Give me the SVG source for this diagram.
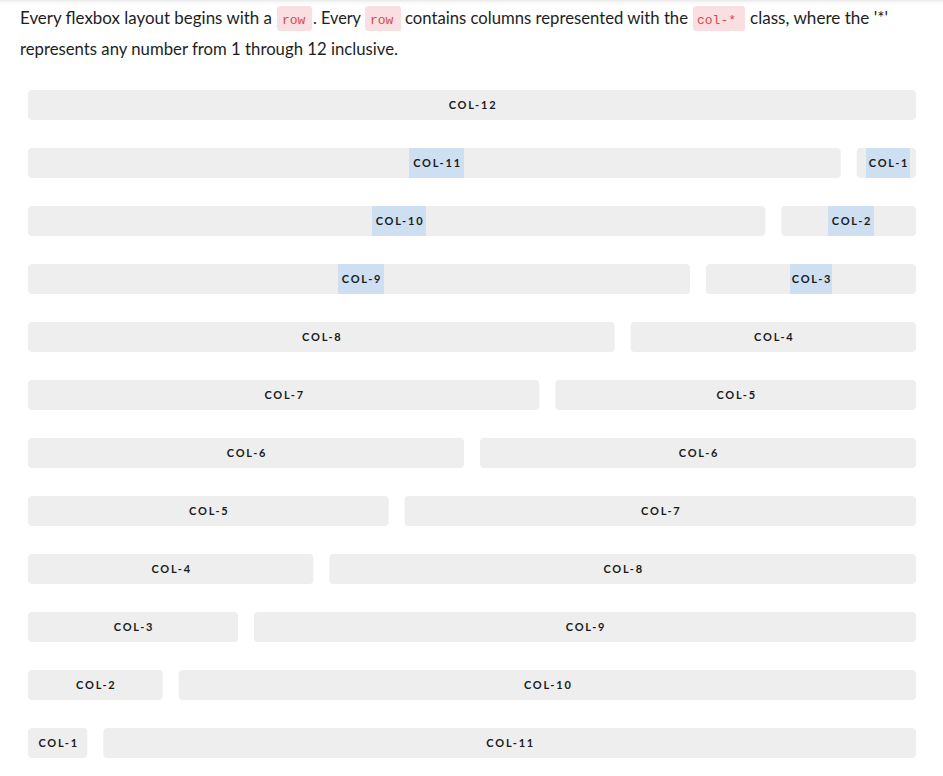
<svg xmlns="http://www.w3.org/2000/svg" width="943" height="776" viewBox="0 0 943 776">
  <defs>
    <linearGradient id="topShade" x1="0" y1="0" x2="0" y2="1">
      <stop offset="0" stop-color="#e9e9e9"/>
      <stop offset="1" stop-color="#ffffff" stop-opacity="0"/>
    </linearGradient>
  </defs>
  <style>
    .intro { font-family: Lato, "Noto Sans", "Liberation Sans", sans-serif; font-size: 16.5px; fill: #1e1e1e; }
    .code-bg { fill: #f9dfe1; }
    .code { font-family: "Liberation Mono", "DejaVu Sans Mono", monospace; font-size: 13px; fill: #d9474f; }
    .bar { fill: #eeeeee; }
    .hl { fill: #cddff0; }
    .lbl { font-family: Lato, "Noto Sans", "Liberation Sans", sans-serif; font-size: 11px; font-weight: 700; letter-spacing: 1.8px; fill: #1a1a1a; text-anchor: middle; }
  </style>

  <rect x="0" y="0" width="943" height="776" fill="#ffffff"/>
  <rect x="0" y="0" width="943" height="6" fill="url(#topShade)"/>

  <!-- intro paragraph -->
  <g id="intro">
    <text class="intro" x="20" y="24" textLength="252" lengthAdjust="spacingAndGlyphs">Every flexbox layout begins with a</text>
    <rect class="code-bg" x="277" y="6" width="35" height="25" rx="3"/>
    <text class="code" x="282" y="24">row</text>
    <text class="intro" x="313" y="24" textLength="48" lengthAdjust="spacingAndGlyphs">. Every</text>
    <rect class="code-bg" x="365" y="6" width="36" height="25" rx="3"/>
    <text class="code" x="370" y="24">row</text>
    <text class="intro" x="405" y="24" textLength="283" lengthAdjust="spacingAndGlyphs">contains columns represented with the</text>
    <rect class="code-bg" x="693" y="6" width="52" height="25" rx="3"/>
    <text class="code" x="697" y="24">col-*</text>
    <text class="intro" x="750" y="24" textLength="138" lengthAdjust="spacingAndGlyphs">class, where the '*'</text>
    <text class="intro" x="20" y="55" textLength="378" lengthAdjust="spacingAndGlyphs">represents any number from 1 through 12 inclusive.</text>
  </g>

  <!-- row 1 -->
  <g id="row-1">
    <g id="r1-col-12"><rect class="bar" x="28" y="90" width="888" height="30" rx="4"/><text class="lbl" x="473" y="108.5">COL-12</text></g>
  </g>
  <!-- row 2 -->
  <g id="row-2">
    <g id="r2-col-11"><rect class="bar" x="28" y="148" width="812.67" height="30" rx="4"/><rect class="hl" x="409" y="148" width="55" height="30"/><text class="lbl" x="437.5" y="166.5">COL-11</text></g>
    <g id="r2-col-1"><rect class="bar" x="856.67" y="148" width="59.33" height="30" rx="4"/><rect class="hl" x="866" y="148" width="44" height="30"/><text class="lbl" x="889" y="166.5">COL-1</text></g>
  </g>
  <!-- row 3 -->
  <g id="row-3">
    <g id="r3-col-10"><rect class="bar" x="28" y="206" width="737.33" height="30" rx="4"/><rect class="hl" x="372" y="206" width="54" height="30"/><text class="lbl" x="400" y="224.5">COL-10</text></g>
    <g id="r3-col-2"><rect class="bar" x="781.33" y="206" width="134.67" height="30" rx="4"/><rect class="hl" x="828" y="206" width="46" height="30"/><text class="lbl" x="852" y="224.5">COL-2</text></g>
  </g>
  <!-- row 4 -->
  <g id="row-4">
    <g id="r4-col-9"><rect class="bar" x="28" y="264" width="662" height="30" rx="4"/><rect class="hl" x="338" y="264" width="46" height="30"/><text class="lbl" x="362" y="282.5">COL-9</text></g>
    <g id="r4-col-3"><rect class="bar" x="706" y="264" width="210" height="30" rx="4"/><rect class="hl" x="790" y="264" width="42" height="30"/><text class="lbl" x="812" y="282.5">COL-3</text></g>
  </g>
  <!-- row 5 -->
  <g id="row-5">
    <g id="r5-col-8"><rect class="bar" x="28" y="322" width="586.67" height="30" rx="4"/><text class="lbl" x="322.3" y="340.5">COL-8</text></g>
    <g id="r5-col-4"><rect class="bar" x="630.67" y="322" width="285.33" height="30" rx="4"/><text class="lbl" x="774.3" y="340.5">COL-4</text></g>
  </g>
  <!-- row 6 -->
  <g id="row-6">
    <g id="r6-col-7"><rect class="bar" x="28" y="380" width="511.33" height="30" rx="4"/><text class="lbl" x="284.7" y="398.5">COL-7</text></g>
    <g id="r6-col-5"><rect class="bar" x="555.33" y="380" width="360.67" height="30" rx="4"/><text class="lbl" x="736.7" y="398.5">COL-5</text></g>
  </g>
  <!-- row 7 -->
  <g id="row-7">
    <g id="r7-col-6"><rect class="bar" x="28" y="438" width="436" height="30" rx="4"/><text class="lbl" x="247" y="456.5">COL-6</text></g>
    <g id="r7-col-6b"><rect class="bar" x="480" y="438" width="436" height="30" rx="4"/><text class="lbl" x="699" y="456.5">COL-6</text></g>
  </g>
  <!-- row 8 -->
  <g id="row-8">
    <g id="r8-col-5"><rect class="bar" x="28" y="496" width="360.67" height="30" rx="4"/><text class="lbl" x="209.3" y="514.5">COL-5</text></g>
    <g id="r8-col-7"><rect class="bar" x="404.67" y="496" width="511.33" height="30" rx="4"/><text class="lbl" x="661.3" y="514.5">COL-7</text></g>
  </g>
  <!-- row 9 -->
  <g id="row-9">
    <g id="r9-col-4"><rect class="bar" x="28" y="554" width="285.33" height="30" rx="4"/><text class="lbl" x="171.7" y="572.5">COL-4</text></g>
    <g id="r9-col-8"><rect class="bar" x="329.33" y="554" width="586.67" height="30" rx="4"/><text class="lbl" x="623.7" y="572.5">COL-8</text></g>
  </g>
  <!-- row 10 -->
  <g id="row-10">
    <g id="r10-col-3"><rect class="bar" x="28" y="612" width="210" height="30" rx="4"/><text class="lbl" x="134" y="630.5">COL-3</text></g>
    <g id="r10-col-9"><rect class="bar" x="254" y="612" width="662" height="30" rx="4"/><text class="lbl" x="586" y="630.5">COL-9</text></g>
  </g>
  <!-- row 11 -->
  <g id="row-11">
    <g id="r11-col-2"><rect class="bar" x="28" y="670" width="134.67" height="30" rx="4"/><text class="lbl" x="96.3" y="688.5">COL-2</text></g>
    <g id="r11-col-10"><rect class="bar" x="178.67" y="670" width="737.33" height="30" rx="4"/><text class="lbl" x="548.3" y="688.5">COL-10</text></g>
  </g>
  <!-- row 12 -->
  <g id="row-12">
    <g id="r12-col-1"><rect class="bar" x="28" y="728" width="59.33" height="30" rx="4"/><text class="lbl" x="58.7" y="746.5">COL-1</text></g>
    <g id="r12-col-11"><rect class="bar" x="103.33" y="728" width="812.67" height="30" rx="4"/><text class="lbl" x="510.7" y="746.5">COL-11</text></g>
  </g>

  <!-- column pairs are laid out without connectors -->
  <g id="connectors"/>
</svg>
